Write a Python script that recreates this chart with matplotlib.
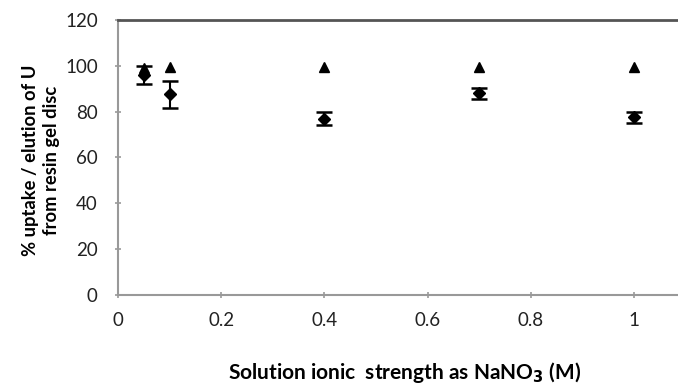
import matplotlib
matplotlib.use("Agg")
import matplotlib.pyplot as plt

plt.rcParams["font.family"] = ["Lato", "DejaVu Sans"]

# data
ionic_strength = [0.05, 0.1, 0.4, 0.7, 1.0]
uptake = [99, 99.5, 99.5, 99.5, 99.5]
elution = [96, 87.5, 77, 88, 77.5]
elution_err = [4, 6, 3, 2.5, 2.5]

fig = plt.figure(figsize=(6.78, 3.85), dpi=100)
ax = fig.add_axes([0.174, 0.234, 0.837, 0.714])

ax.errorbar(ionic_strength, elution, yerr=elution_err, fmt="D", color="black",
            markersize=6, capsize=6, elinewidth=1.5, capthick=1.8)
ax.plot(ionic_strength, uptake, "^", color="black", markersize=7.5)

ax.set_xlim(0, 1.1)
ax.set_ylim(0, 120)
ax.set_xticks([0, 0.2, 0.4, 0.6, 0.8, 1])
ax.set_xticklabels(["0", "0.2", "0.4", "0.6", "0.8", "1"])
ax.set_yticks(range(0, 121, 20))

ax.spines["right"].set_visible(False)
ax.spines["top"].set_color("#555555")
ax.spines["top"].set_linewidth(2)
ax.spines["left"].set_color("#999999")
ax.spines["bottom"].set_color("#999999")
ax.spines["left"].set_linewidth(1.5)
ax.spines["bottom"].set_linewidth(1.5)
ax.tick_params(axis="both", color="#999999", length=5, width=1.2,
               labelsize=13.5, labelcolor="#222222", direction="inout")
ax.tick_params(axis="x", pad=10)
ax.tick_params(axis="y", pad=12)

ax.set_ylabel("% uptake / elution of U\nfrom resin gel disc", fontsize=13.2,
              fontweight="bold", linespacing=1.3)
ax.yaxis.set_label_coords(-0.102, 0.49)
ax.set_xlabel("Solution ionic  strength as NaNO$_\\mathbf{3}$ (M)", fontsize=15,
              fontweight="bold")
ax.xaxis.set_label_coords(0.505, -0.235)

fig.savefig("out.png", dpi=100)
